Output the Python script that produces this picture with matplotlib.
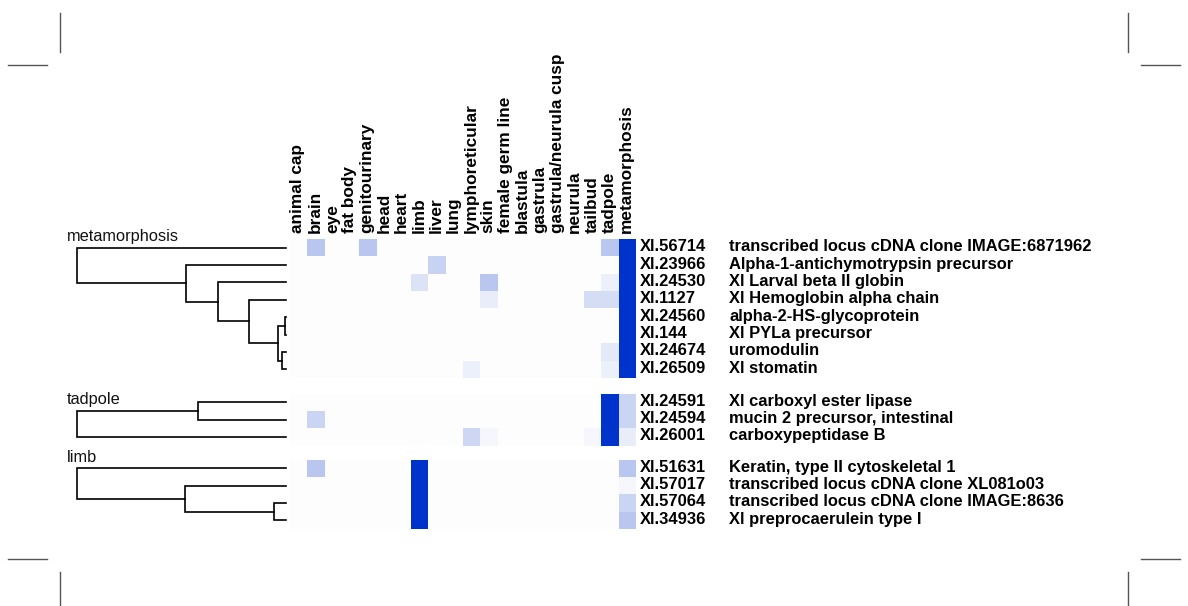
import numpy as np
import matplotlib.pyplot as plt
from matplotlib.colors import LinearSegmentedColormap

tissues = ["animal cap", "brain", "eye", "fat body", "genitourinary", "head", "heart",
           "limb", "liver", "lung", "lymphoreticular", "skin", "female germ line",
           "blastula", "gastrula", "gastrula/neurula cusp", "neurula", "tailbud",
           "tadpole", "metamorphosis"]

group_names = ["metamorphosis", "tadpole", "limb"]

meta_ids = ["Xl.56714", "Xl.23966", "Xl.24530", "Xl.1127", "Xl.24560", "Xl.144",
            "Xl.24674", "Xl.26509"]
meta_desc = ["transcribed locus cDNA clone IMAGE:6871962", "Alpha-1-antichymotrypsin precursor",
             "Xl Larval beta II globin", "Xl Hemoglobin alpha chain", "alpha-2-HS-glycoprotein",
             "Xl PYLa precursor", "uromodulin", "Xl stomatin"]
meta_vals = [
    [0, .27, 0, 0, .27, 0, 0, 0, 0, 0, 0, 0, 0, 0, 0, 0, 0, 0, .27, 1],
    [0, 0, 0, 0, 0, 0, 0, 0, .21, 0, 0, 0, 0, 0, 0, 0, 0, 0, 0, 1],
    [0, 0, 0, 0, 0, 0, 0, .13, 0, 0, 0, .27, 0, 0, 0, 0, 0, 0, .07, 1],
    [0, 0, 0, 0, 0, 0, 0, 0, 0, 0, 0, .08, 0, 0, 0, 0, 0, .16, .16, 1],
    [0, 0, 0, 0, 0, 0, 0, 0, 0, 0, 0, 0, 0, 0, 0, 0, 0, 0, 0, 1],
    [0, 0, 0, 0, 0, 0, 0, 0, 0, 0, 0, 0, 0, 0, 0, 0, 0, 0, 0, 1],
    [0, 0, 0, 0, 0, 0, 0, 0, 0, 0, 0, 0, 0, 0, 0, 0, 0, 0, .1, 1],
    [0, 0, 0, 0, 0, 0, 0, 0, 0, 0, .07, 0, 0, 0, 0, 0, 0, 0, .07, 1],
]

tad_ids = ["Xl.24591", "Xl.24594", "Xl.26001"]
tad_desc = ["Xl carboxyl ester lipase", "mucin 2 precursor, intestinal", "carboxypeptidase B"]
tad_vals = [
    [0, 0, 0, 0, 0, 0, 0, 0, 0, 0, 0, 0, 0, 0, 0, 0, 0, 0, 1, .2],
    [0, .2, 0, 0, 0, 0, 0, 0, 0, 0, 0, 0, 0, 0, 0, 0, 0, 0, 1, .2],
    [0, 0, 0, 0, 0, 0, 0, 0, 0, 0, .19, .03, 0, 0, 0, 0, 0, .03, 1, .08],
]

limb_ids = ["Xl.51631", "Xl.57017", "Xl.57064", "Xl.34936"]
limb_desc = ["Keratin, type II cytoskeletal 1", "transcribed locus cDNA clone XL081o03",
             "transcribed locus cDNA clone IMAGE:8636", "Xl preprocaerulein type I"]
limb_vals = [
    [0, .27, 0, 0, 0, 0, 0, 1, 0, 0, 0, 0, 0, 0, 0, 0, 0, 0, 0, .27],
    [0, 0, 0, 0, 0, 0, 0, 1, 0, 0, 0, 0, 0, 0, 0, 0, 0, 0, 0, .03],
    [0, 0, 0, 0, 0, 0, 0, 1, 0, 0, 0, 0, 0, 0, 0, 0, 0, 0, 0, .2],
    [0, 0, 0, 0, 0, 0, 0, 1, 0, 0, 0, 0, 0, 0, 0, 0, 0, 0, 0, .27],
]

# dendrograms: (height, left, right), leaves are row indices
meta_tree = (209, 0, (100, 1, (68, 2, (37, 3, (8, (1, 4, 5), (4, 6, 7))))))
tad_tree = (209, (88, 0, 1), 2)
limb_tree = (209, 0, (101, 1, (12, 2, 3)))

groups = [(meta_ids, meta_desc, meta_vals, meta_tree),
          (tad_ids, tad_desc, tad_vals, tad_tree),
          (limb_ids, limb_desc, limb_vals, limb_tree)]
gaps = [0.9, 0.8]

cmap = LinearSegmentedColormap.from_list("wb", ["#fdfdfd", "#0033cc"])

W, H = 1188, 606
fig = plt.figure(figsize=(W / 100, H / 100), dpi=100)

hl, hr, ht, hb = 290, 636, 239, 529
ax = fig.add_axes([hl / W, 1 - hb / H, (hr - hl) / W, (hb - ht) / H])
dx = fig.add_axes([77 / W, 1 - hb / H, (286 - 77) / W, (hb - ht) / H])

starts = []
y0 = 0
for i, g in enumerate(groups):
    starts.append(y0)
    y0 += len(g[0])
    if i < len(gaps):
        y0 += gaps[i]
total = y0

bold = dict(family="Liberation Sans", weight="bold", fontsize=11.9)


def leaf_pos(node, start):
    if isinstance(node, int):
        return start + node + 0.5, 0
    h, a, b = node
    ya, _ = leaf_pos(a, start)
    yb, _ = leaf_pos(b, start)
    return (ya + yb) / 2, h


def draw_tree(node, start):
    if isinstance(node, int):
        return start + node + 0.5, 0
    h, a, b = node
    ya, ha = draw_tree(a, start)
    yb, hb_ = draw_tree(b, start)
    dx.plot([ha, h, h, hb_], [ya, ya, yb, yb], color="black", lw=1.2,
            solid_joinstyle="miter", clip_on=False)
    return (ya + yb) / 2, h


for (ids, desc, vals, tree), s, name in zip(groups, starts, group_names):
    v = np.array(vals)
    ax.pcolormesh(np.arange(len(tissues) + 1), s + np.arange(len(ids) + 1), v,
                  cmap=cmap, vmin=0, vmax=1)
    for r in range(len(ids)):
        ax.text(20.2, s + r + 0.7, ids[r], ha="left", va="baseline", **bold)
        ax.text(25.4, s + r + 0.7, desc[r], ha="left", va="baseline", **bold)
    draw_tree(tree, s)
    top_y = leaf_pos(tree[1], s)[0]
    dx.text(tree[0] + 10, top_y - 0.38, name, ha="left", va="baseline",
            family="Liberation Sans", fontsize=11.8, color="#111111")

for j, t in enumerate(tissues):
    ax.text(j + 0.45, -0.35, t, rotation=90, ha="center", va="bottom",
            family="Liberation Sans", weight="bold", fontsize=12.4)

ax.set_xlim(0, len(tissues))
ax.set_ylim(total, 0)
ax.axis("off")
dx.set_xlim(209, 0)
dx.set_ylim(total, 0)
dx.axis("off")

# crop marks
cm = fig.add_axes([0, 0, 1, 1], zorder=-1)
cm.set_xlim(0, W)
cm.set_ylim(H, 0)
cm.axis("off")
mk = dict(color="#555555", lw=1.0)
cm.plot([60, 60], [13, 52], **mk)
cm.plot([8, 47], [64.5, 64.5], **mk)
cm.plot([1128, 1128], [13, 52], **mk)
cm.plot([1141, 1180], [64.5, 64.5], **mk)
cm.plot([60, 60], [572, 606], **mk)
cm.plot([8, 47], [559, 559], **mk)
cm.plot([1128, 1128], [572, 606], **mk)
cm.plot([1141, 1180], [559, 559], **mk)

fig.savefig("out.png", dpi=100)
